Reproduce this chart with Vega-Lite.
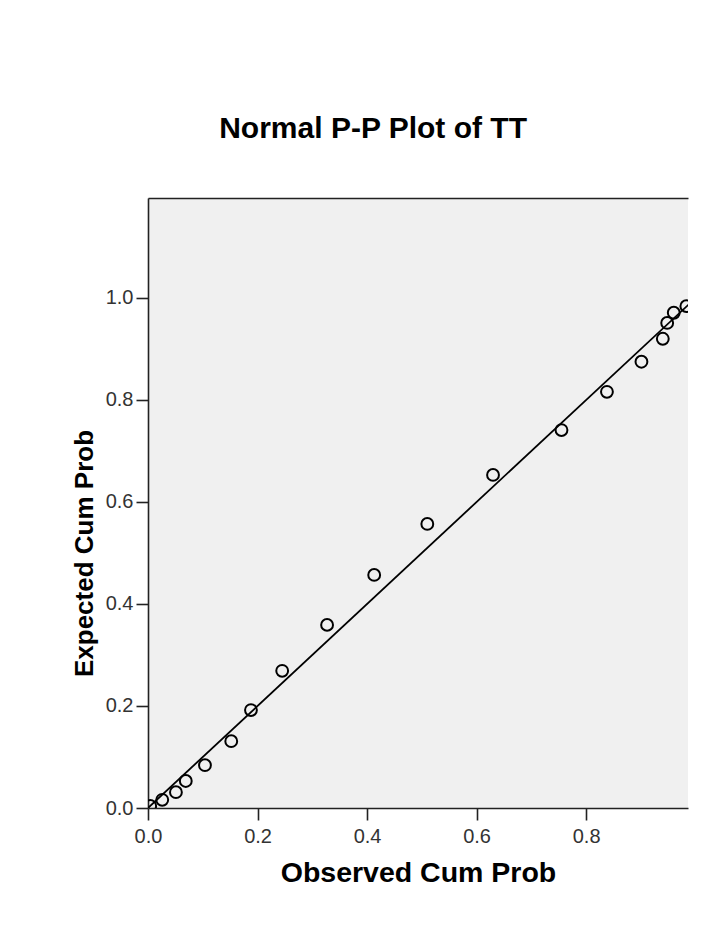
{
  "$schema": "https://vega.github.io/schema/vega-lite/v6.json",
  "width": 540,
  "height": 610,
  "autosize": {"type": "none"},
  "padding": {"left": 148, "top": 198, "right": 28, "bottom": 128},
  "background": "white",
  "title": {
    "text": "Normal P-P Plot of TT",
    "anchor": "start",
    "dx": 148,
    "offset": 54,
    "fontSize": 30,
    "font": "Liberation Sans",
    "fontWeight": "bold",
    "color": "black"
  },
  "config": {
    "view": {"fill": "#f0f0f0", "stroke": null},
    "axis": {
      "grid": false,
      "domainColor": "#222",
      "domainWidth": 1.6,
      "tickColor": "#222",
      "tickWidth": 1.6,
      "tickSize": 12,
      "labelFont": "Liberation Sans",
      "labelFontSize": 20,
      "labelColor": "#333",
      "titleFont": "Liberation Sans",
      "titleFontWeight": "bold",
      "titleColor": "black"
    }
  },
  "layer": [
    {
      "data": {"values": [{"observed": 0, "expected": 0}, {"observed": 1.2, "expected": 1.2}]},
      "mark": {"type": "line", "clip": true, "color": "black", "strokeWidth": 1.8},
      "encoding": {
        "x": {
          "field": "observed", "type": "quantitative",
          "scale": {"domain": [0, 0.986], "nice": false, "zero": false},
          "axis": {"orient": "top", "labels": false, "ticks": false, "title": null}
        },
        "y": {
          "field": "expected", "type": "quantitative",
          "scale": {"domain": [0, 1.196], "nice": false, "zero": false},
          "axis": {"values": [0, 0.2, 0.4, 0.6, 0.8, 1.0], "format": ".1f", "labelPadding": 3, "titlePadding": 8, "titleFontSize": 26, "titleY": 355, "title": "Expected Cum Prob"}
        }
      }
    },
    {
      "data": {"values": [
        {"observed": 0.004, "expected": 0.004},
        {"observed": 0.026, "expected": 0.016},
        {"observed": 0.051, "expected": 0.031},
        {"observed": 0.069, "expected": 0.053},
        {"observed": 0.104, "expected": 0.084},
        {"observed": 0.152, "expected": 0.131},
        {"observed": 0.188, "expected": 0.192},
        {"observed": 0.245, "expected": 0.269},
        {"observed": 0.327, "expected": 0.359},
        {"observed": 0.413, "expected": 0.457},
        {"observed": 0.510, "expected": 0.557},
        {"observed": 0.630, "expected": 0.653},
        {"observed": 0.755, "expected": 0.741},
        {"observed": 0.838, "expected": 0.816},
        {"observed": 0.901, "expected": 0.875},
        {"observed": 0.940, "expected": 0.920},
        {"observed": 0.948, "expected": 0.951},
        {"observed": 0.960, "expected": 0.971},
        {"observed": 0.983, "expected": 0.984}
      ]},
      "mark": {"type": "point", "shape": "circle", "filled": false, "clip": true, "size": 140, "strokeWidth": 2, "color": "black", "opacity": 1},
      "encoding": {
        "x": {
          "field": "observed", "type": "quantitative",
          "scale": {"domain": [0, 0.986], "nice": false, "zero": false},
          "axis": {
            "orient": "bottom",
            "values": [0, 0.2, 0.4, 0.6, 0.8, 1.0],
            "labelExpr": "datum.value >= 0.99 ? '1' : format(datum.value, '.1f')",
            "labelFlush": false,
            "labelOverlap": false,
            "labelBound": false,
            "labelAlign": {"condition": {"test": "datum.value >= 0.99", "value": "right"}, "value": "center"},
            "tickOpacity": {"condition": {"test": "datum.value >= 0.99", "value": 0}, "value": 1},
            "labelPadding": 6,
            "titlePadding": 12,
            "titleFontSize": 28.5,
            "title": "Observed Cum Prob"
          }
        },
        "y": {
          "field": "expected", "type": "quantitative",
          "scale": {"domain": [0, 1.196], "nice": false, "zero": false},
          "axis": {"values": [0, 0.2, 0.4, 0.6, 0.8, 1.0], "format": ".1f", "labelPadding": 3, "titlePadding": 8, "titleFontSize": 26, "titleY": 355, "title": "Expected Cum Prob"}
        }
      }
    }
  ],
  "resolve": {"axis": {"x": "independent"}}
}
